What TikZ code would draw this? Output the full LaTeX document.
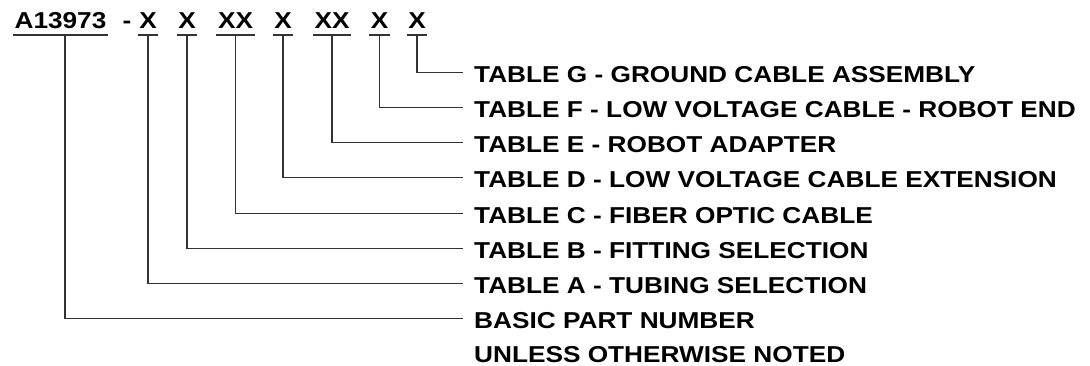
\documentclass[tikz,border=0pt]{standalone}
\usepackage{fontspec}
\setmainfont{Liberation Sans}[FakeStretch=1.14]
\usepackage{tikz}
\usetikzlibrary{positioning}
\tikzset{
  seg/.style={font=\bfseries\fontsize{23}{27}\selectfont, inner xsep=1.5pt, inner ysep=0pt, anchor=base},
  lbl/.style={font=\bfseries\fontsize{23}{27}\selectfont, inner xsep=11pt, inner ysep=0pt,
    text height=20pt, text depth=0pt, anchor=west},
  ln/.style={draw=black!80, line width=1.1pt}
}
\begin{document}
\begin{tikzpicture}[x=1pt, y=-1pt]
  \useasboundingbox (0,0) rectangle (1090,366);
  % part number
  \node[seg] (pn) at (60.5,28.3) {A13973};
  \node[seg] (dash) at (127,28.3) {-};
  \node[seg] (a) at (148,28.3) {X};
  \node[seg] (b) at (187,28.3) {X};
  \node[seg] (c) at (235.5,28.3) {XX};
  \node[seg] (d) at (283,28.3) {X};
  \node[seg] (e) at (332,28.3) {XX};
  \node[seg] (f) at (379.5,28.3) {X};
  \node[seg] (g) at (417,28.3) {X};
  % tables
  \node[lbl] (lg) at (463,72.5) {TABLE G - GROUND CABLE ASSEMBLY};
  \node[lbl] (lf) at (463,107.65) {TABLE F - LOW VOLTAGE CABLE - ROBOT END};
  \node[lbl] (le) at (463,142.8) {TABLE E - ROBOT ADAPTER};
  \node[lbl] (ld) at (463,177.95) {TABLE D - LOW VOLTAGE CABLE EXTENSION};
  \node[lbl] (lc) at (463,213.1) {TABLE C - FIBER OPTIC CABLE};
  \node[lbl] (lb) at (463,248.25) {TABLE B - FITTING SELECTION};
  \node[lbl] (la) at (463,283.4) {TABLE A - TUBING SELECTION};
  \node[lbl] (lbasic) at (463,318.55) {BASIC PART NUMBER};
  \node[lbl] (note) at (463,352) {UNLESS OTHERWISE NOTED};
  % underlines and leaders
  \foreach \s in {pn,a,b,c,d,e,f,g}
    \draw[ln] ([yshift=-6.7pt]\s.base west) -- ([yshift=-6.7pt]\s.base east);
  \draw[ln] ([xshift=4.5pt,yshift=-6.7pt]pn.base) |- (lbasic.west);
  \foreach \s in {a,...,g}
    \draw[ln] ([yshift=-6.7pt]\s.base) |- (l\s.west);
\end{tikzpicture}
\end{document}
